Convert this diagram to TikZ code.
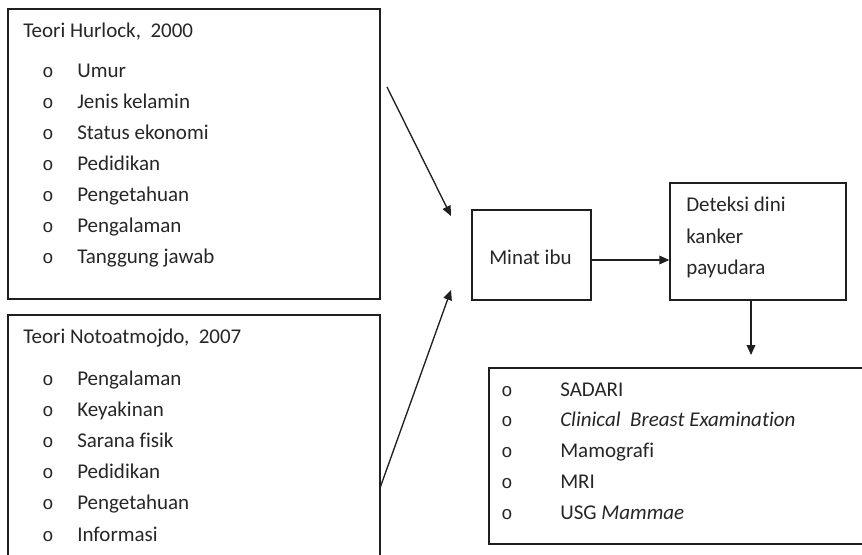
\documentclass[tikz,border=0pt]{standalone}
\usepackage{fontspec}
\setmainfont{Carlito}[Ligatures={NoCommon,NoRare}]
\newfontfamily\bulletfont{Liberation Mono}
\usetikzlibrary{arrows.meta,fit}
\begin{document}
\begin{tikzpicture}[x=0.75pt,y=-0.75pt,
  box/.style={draw=black!88,line width=1pt,inner sep=0pt},
  txt/.style={anchor=base west,inner sep=0pt,text=black!85,font=\fontsize{15.75}{19}\selectfont},
  bul/.style={anchor=base,inner sep=0pt,text=black!85,font=\bulletfont\fontsize{14}{16}\selectfont},
  arr/.style={draw=black!88,line width=1pt,-{Triangle[length=7.5pt,width=6.5pt]}}]
\useasboundingbox (0,0) rectangle (862,555);
\clip (0,0) rectangle (862,555);
% boxes
\node[box,fit={(8,9) (380,299)}] (b1) {};
\node[box,fit={(8,315) (380,600)}] (b2) {};
\node[box,fit={(472,210) (591,300)}] (minat) {};
\node[box,fit={(670,183) (846,300)}] (det) {};
\node[box,fit={(489,368) (880,544)}] (b3) {};
% box 1
\node[txt] (t1) at (23,38) {Teori Hurlock,\ \ 2000};
\foreach \t [count=\i] in {Umur,Jenis kelamin,Status ekonomi,Pedidikan,Pengetahuan,Pengalaman,Tanggung jawab}{
  \node[bul] (h\i b) at (48,{78+30.9*(\i-1)}) {o};
  \node[txt] (h\i) at (77,{78+30.9*(\i-1)}) {\t};
}
% box 2
\node[txt] (t2) at (23,344) {Teori Notoatmojdo,\ \ 2007};
\foreach \t [count=\i] in {Pengalaman,Keyakinan,Sarana fisik,Pedidikan,Pengetahuan,Informasi}{
  \node[bul] (n\i b) at (48,{385+31.2*(\i-1)}) {o};
  \node[txt] (n\i) at (77,{385+31.2*(\i-1)}) {\t};
}
% minat
\node[txt] (mt) at (489,265) {Minat ibu};
% deteksi
\node[txt] (d1) at (686,212) {Deteksi dini};
\node[txt] (d2) at (686,243.5) {kanker};
\node[txt] (d3) at (686,275) {payudara};
% box 3
\foreach \t [count=\i] in {SADARI,\textit{Clinical\ \ Breast Examination},Mamografi,MRI,USG \textit{Mammae}}{
  \node[bul] (s\i b) at (507,{396+30.75*(\i-1)}) {o};
  \node[txt] (s\i) at (560,{396+30.75*(\i-1)}) {\t};
}
% connectors
\coordinate (a1s) at (387,87);
\coordinate (a1e) at (451,216);
\coordinate (a2s) at (380,488);
\coordinate (a2e) at (451,290);
\coordinate (a3) at (0,260);
\coordinate (a4) at (751,0);
\coordinate (a4e) at (751,355);
\draw[arr] (a1s) -- (a1e);
\draw[arr] (a2s) -- (a2e);
\draw[arr] (minat.east |- a3) -- (det.west |- a3);
\draw[arr] (det.south -| a4) -- (a4e);
\end{tikzpicture}
\end{document}
